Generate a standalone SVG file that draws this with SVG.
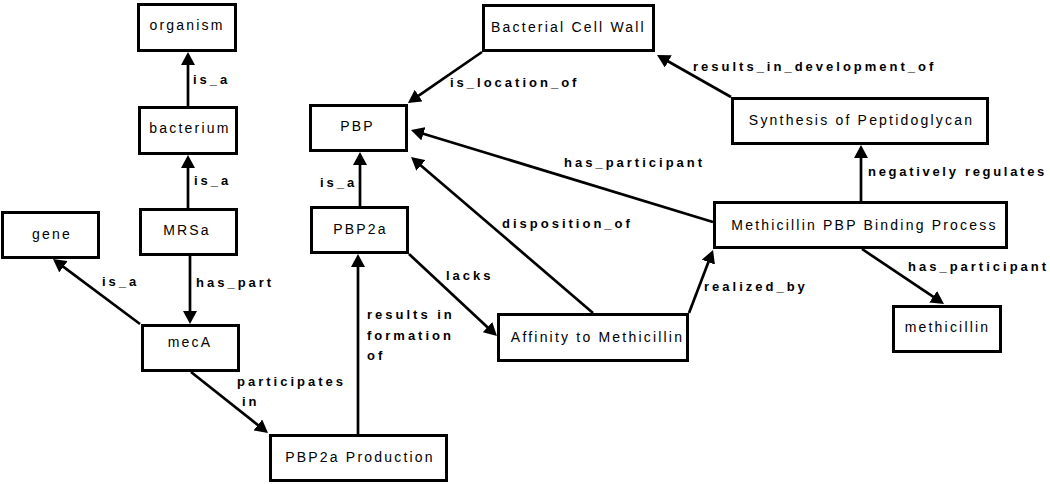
<svg xmlns="http://www.w3.org/2000/svg" width="1050" height="484" viewBox="0 0 1050 484">
<style>
.box{fill:#fff;stroke:#000;stroke-width:3}
.nt{font-family:"Liberation Sans",Arial,sans-serif;font-size:14px;letter-spacing:2.2px;text-anchor:middle;fill:#000}
.el{font-family:"Liberation Sans",Arial,sans-serif;font-size:13px;font-weight:bold;letter-spacing:3px;fill:#000}
.edge{stroke:#000;stroke-width:2.7;fill:none;marker-end:url(#arr)}
</style>
<defs>
<marker id="arr" markerUnits="userSpaceOnUse" markerWidth="14" markerHeight="14" refX="7" refY="7" orient="auto" viewBox="0 0 14 14">
<path d="M0,0 L13,7 L0,14 z" fill="#000"/>
</marker>
</defs>
<rect width="1050" height="484" fill="#fff"/>
<g id="connectors">
<line class="edge" x1="188" y1="106" x2="188" y2="58"/>
<line class="edge" x1="188" y1="208" x2="188" y2="161"/>
<line class="edge" x1="190" y1="256" x2="190" y2="318"/>
<line class="edge" x1="140" y1="324" x2="57.8" y2="262.6"/>
<line class="edge" x1="191" y1="372" x2="263.3" y2="429.3"/>
<line class="edge" x1="358" y1="434" x2="358" y2="260"/>
<line class="edge" x1="360" y1="206" x2="360" y2="158"/>
<line class="edge" x1="409" y1="254" x2="492.6" y2="331.9"/>
<line class="edge" x1="593" y1="313" x2="415.6" y2="160.9"/>
<line class="edge" x1="689" y1="313" x2="710.9" y2="255.6"/>
<line class="edge" x1="713" y1="222" x2="416.7" y2="131.7"/>
<line class="edge" x1="861" y1="201" x2="861" y2="151"/>
<line class="edge" x1="862" y1="249" x2="939" y2="300.7"/>
<line class="edge" x1="731" y1="97" x2="662.2" y2="58"/>
<line class="edge" x1="482" y1="52" x2="412.9" y2="99.6"/>
<text class="el" x="193" y="84">is_a</text>
<text class="el" x="194" y="185">is_a</text>
<text class="el" x="196" y="287">has_part</text>
<text class="el" x="102" y="286">is_a</text>
<text class="el" x="237" y="386">participates</text>
<text class="el" x="242" y="406">in</text>
<text class="el" x="367" y="319">results in</text>
<text class="el" x="367" y="340">formation</text>
<text class="el" x="367" y="360">of</text>
<text class="el" x="446" y="280">lacks</text>
<text class="el" x="320" y="187">is_a</text>
<text class="el" x="450" y="87">is_location_of</text>
<text class="el" x="564" y="167">has_participant</text>
<text class="el" x="502" y="228">disposition_of</text>
<text class="el" x="704" y="291">realized_by</text>
<text class="el" x="693" y="71">results_in_development_of</text>
<text class="el" x="868" y="176" style="letter-spacing:2.7px">negatively regulates</text>
<text class="el" x="908" y="271">has_participant</text>
</g>
<g id="organism"><rect class="box" x="138.5" y="4.5" width="97" height="46"/><text class="nt" x="187" y="29.5">organism</text></g>
<g id="bacterium"><rect class="box" x="139.5" y="107.5" width="97" height="46"/><text class="nt" x="190" y="133">bacterium</text></g>
<g id="MRSa"><rect class="box" x="140.5" y="209.5" width="96" height="45"/><text class="nt" x="187" y="235">MRSa</text></g>
<g id="gene"><rect class="box" x="2.5" y="212.5" width="96" height="45"/><text class="nt" x="52" y="238.5">gene</text></g>
<g id="mecA"><rect class="box" x="142.5" y="325.5" width="96" height="45"/><text class="nt" x="190" y="347">mecA</text></g>
<g id="PBP2a_Production"><rect class="box" x="270.5" y="435.5" width="176" height="45"/><text class="nt" x="360" y="462">PBP2a Production</text></g>
<g id="PBP"><rect class="box" x="310.5" y="105.5" width="96" height="45"/><text class="nt" x="357.5" y="130.7">PBP</text></g>
<g id="PBP2a"><rect class="box" x="311.5" y="207.5" width="96" height="45"/><text class="nt" x="360.5" y="234">PBP2a</text></g>
<g id="Bacterial_Cell_Wall"><rect class="box" x="483.5" y="5.5" width="170" height="45"/><text class="nt" x="568.5" y="31.7">Bacterial Cell Wall</text></g>
<g id="Synthesis_of_Peptidoglycan"><rect class="box" x="732.5" y="98.5" width="255" height="45"/><text class="nt" x="861.5" y="125">Synthesis of Peptidoglycan</text></g>
<g id="Methicillin_PBP_Binding_Process"><rect class="box" x="714.5" y="202.5" width="292" height="45"/><text class="nt" x="864.5" y="230">Methicillin PBP Binding Process</text></g>
<g id="Affinity_to_Methicillin"><rect class="box" x="498.5" y="314.5" width="189" height="46"/><text class="nt" x="597.5" y="342">Affinity to Methicillin</text></g>
<g id="methicillin"><rect class="box" x="893.5" y="306.5" width="107" height="45"/><text class="nt" x="947.5" y="331.7">methicillin</text></g>
</svg>
